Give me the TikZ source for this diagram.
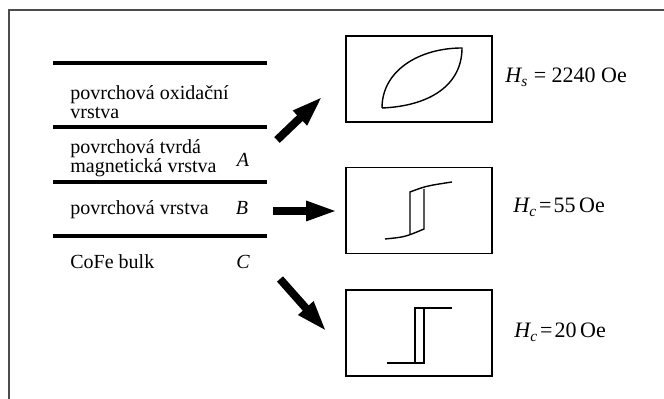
\documentclass[tikz,border=0pt]{standalone}
\usepackage{fontspec}
\setmainfont{Liberation Serif}
\usetikzlibrary{arrows.meta}

\begin{document}
\begin{tikzpicture}[x=0.5pt,y=-0.5pt,
        layer/.style={line width=2pt,line cap=butt},
        layertext/.style={anchor=base west,inner sep=0pt,align=left,
            font=\fontsize{10}{9.5}\selectfont},
        loopbox/.style={draw,line width=0.6pt,minimum width=73pt,minimum height=43pt,inner sep=0pt},
        loopcurve/.style={line width=0.7pt},
        field/.style={anchor=base west,inner sep=0pt,font=\fontsize{11}{12}\selectfont},
        fat/.style={line width=4pt,-{Triangle[length=16pt,width=9pt]}}]

    \useasboundingbox (0,0) rectangle (664,399);
    \draw[line width=1pt,gray!60!black] (9,399) -- (9,10) -- (664,10);

    % layers
    \foreach \y in {63,127,182,236}
        \draw[layer] (53,\y) -- (267,\y);

    \node[layertext] (oxid) at (70,119) {povrchová oxidační\\vrstva};
    \node[layertext] (hard) at (70,173) {povrchová tvrdá\\magnetická vrstva};
    \node[layertext] (surf) at (70,215) {povrchová vrstva};
    \node[layertext] (bulk) at (70,269) {CoFe bulk};
    \node[layertext,anchor=base] (A) at (243,167) {\itshape A};
    \node[layertext,anchor=base] (B) at (242,215) {\itshape B};
    \node[layertext,anchor=base] (C) at (243,269) {\itshape C};

    % loops
    \node[loopbox] (loopA) at (419,79) {};
    \node[loopbox] (loopB) at (419,210.5) {};
    \node[loopbox] (loopC) at (419,333) {};

    \draw[loopcurve] (382,108) .. controls (382,70) and (420,48) .. (462,48)
        .. controls (462,85) and (430,106) .. (382,108);
    \draw[loopcurve] (385,239) .. controls (405,237) .. (424,229) -- (424,189);
    \draw[loopcurve] (410,234) -- (410,192) .. controls (426,186) .. (452,182);
    \draw[loopcurve] (387,363) -- (424,363) -- (424,308);
    \draw[loopcurve] (415,363) -- (415,308) -- (452,308);

    \node[field] (HA) at (505,83) {{\itshape H}\textsubscript{\itshape s} = 2240 Oe};
    \node[field] (HB) at (513,213) {{\itshape H}\textsubscript{\itshape c}\kern1pt=\kern1pt55\,Oe};
    \node[field] (HC) at (514,338) {{\itshape H}\textsubscript{\itshape c}\kern1pt=\kern1pt20\,Oe};

    % arrows
    \coordinate (tailA) at (277,140);
    \coordinate (tipA) at (323,96);
    \coordinate (tailB) at (273,211);
    \coordinate (tipB) at (338,211);
    \coordinate (tailC) at (280,279);
    \coordinate (tipC) at (327,332);
    \draw[fat] (tailA) -- (tipA);
    \draw[fat] (tailB) -- (tipB);
    \draw[fat] (tailC) -- (tipC);
\end{tikzpicture}
\end{document}
